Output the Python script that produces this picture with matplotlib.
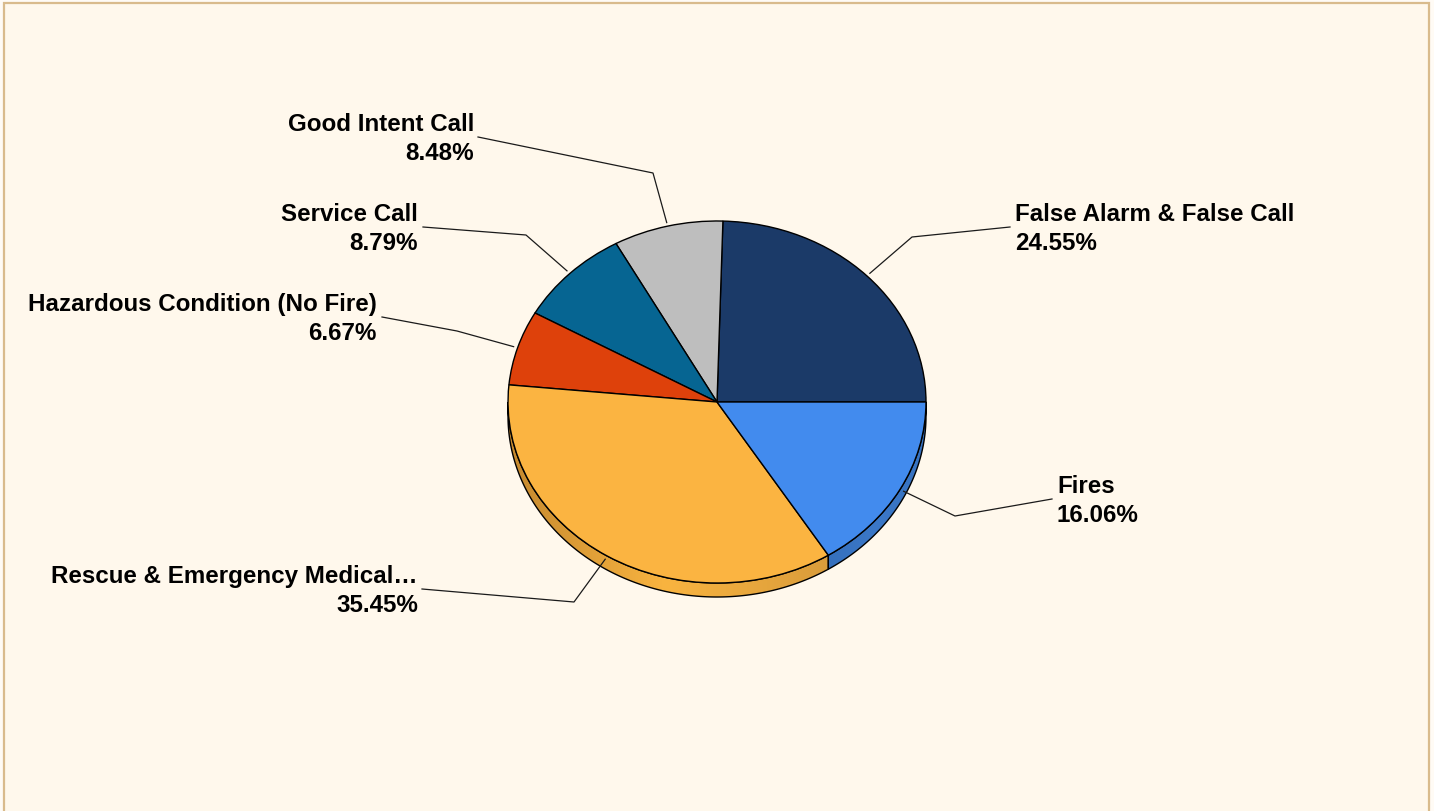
import numpy as np
import matplotlib.pyplot as plt
from matplotlib.patches import Polygon, Rectangle
from matplotlib.colors import LinearSegmentedColormap

# data (counter-clockwise from 3 o'clock)
labels = ["False Alarm & False Call", "Good Intent Call", "Service Call",
          "Hazardous Condition (No Fire)", "Rescue & Emergency Medical\u2026", "Fires"]
shares = [24.55, 8.48, 8.79, 6.67, 35.45, 16.06]

colors = ["#1b3a68", "#bebebe", "#066592", "#de410b", "#fbb441", "#428bee"]
# side (depth) shading: list of (x position, colour) stops
side_shade = {
    4: [(0.0, "#c5892f"), (0.49, "#f9b440"), (1.0, "#d99c3b")],
    5: [(0.0, "#3670bd"), (0.5, "#3b78c8"), (1.0, "#3772c0")],
}

# layout in pixels
W, H = 1434, 812
cx, cy = 717, 403
rx, ry = 209, 181
depth = 14
# (elbow, label start, text x)
leaders = [
    ((912, 238), (1010, 228), 1015),
    ((653, 174), (478, 138), 474),
    ((526, 236), (423, 228), 418),
    ((457, 332), (382, 318), 377),
    ((574, 603), (422, 590), 418),
    ((955, 517), (1052, 500), 1057),
]
bg = "#fff8ec"


def px(x, y):
    return (x - cx) / rx, (cy - y) / ry


fig = plt.figure(figsize=(W / 100, H / 100), dpi=100, facecolor="#fffbf5")
fig.add_artist(Rectangle((4 / W, -0.1), (1429 - 4) / W, 1.1 - 4 / H,
                         transform=fig.transFigure, facecolor=bg,
                         edgecolor="#d9bb8c", linewidth=1.6, zorder=-5))
ax = fig.add_axes([0, 0, 1, 1])
ax.patch.set_visible(False)

wedges, _ = ax.pie(shares, colors=colors, startangle=0, counterclock=True,
                   radius=1, center=(0, 0), frame=True,
                   wedgeprops=dict(edgecolor="black", linewidth=1.0, zorder=3))

# 3d side of the pie
d = depth / ry
ends = np.cumsum(shares) / 100 * 360
starts = ends - np.array(shares) / 100 * 360
for i in range(len(shares)):
    lo, hi = max(starts[i], 180), min(ends[i], 360)
    if hi <= lo:
        continue
    t = np.radians(np.linspace(lo, hi, 200))
    top = np.column_stack([np.cos(t), np.sin(t)])
    bot = np.column_stack([np.cos(t), np.sin(t) - d])[::-1]
    pts = np.vstack([top, bot])
    poly = Polygon(pts, closed=True, facecolor="none", edgecolor="black",
                   linewidth=1.0, zorder=2)
    ax.add_patch(poly)
    x0, x1 = pts[:, 0].min(), pts[:, 0].max()
    cmap = LinearSegmentedColormap.from_list("side%d" % i, side_shade[i])
    grad = np.linspace(0, 1, 256).reshape(1, -1)
    im = ax.imshow(grad, cmap=cmap, extent=(x0, x1, -1 - d, 0),
                   aspect="auto", zorder=1, interpolation="bilinear")
    im.set_clip_path(poly)

# leader lines and labels
mids = (starts + ends) / 2
for i, lab in enumerate(labels):
    m = np.radians(mids[i])
    (ex, ey), (sx, sy), tx = leaders[i]
    xs = [1.02 * np.cos(m), px(ex, ey)[0], px(sx, sy)[0]]
    ys = [1.02 * np.sin(m), px(ex, ey)[1], px(sx, sy)[1]]
    ax.plot(xs, ys, color="#1a1a1a", linewidth=0.9, zorder=4)
    ha = "left" if tx > sx else "right"
    ax.text(*px(tx, sy + 1), "%s\n%.2f%%" % (lab, shares[i]), ha=ha, va="center",
            multialignment=ha, fontsize=17.4, fontweight="bold",
            family=["Liberation Sans", "DejaVu Sans"], linespacing=1.32,
            color="black", zorder=5)

ax.set_xlim(-cx / rx, (W - cx) / rx)
ax.set_ylim((cy - H) / ry, cy / ry)
ax.set_aspect("auto")
ax.axis("off")

fig.savefig("out.png", dpi=100, facecolor=fig.get_facecolor())
